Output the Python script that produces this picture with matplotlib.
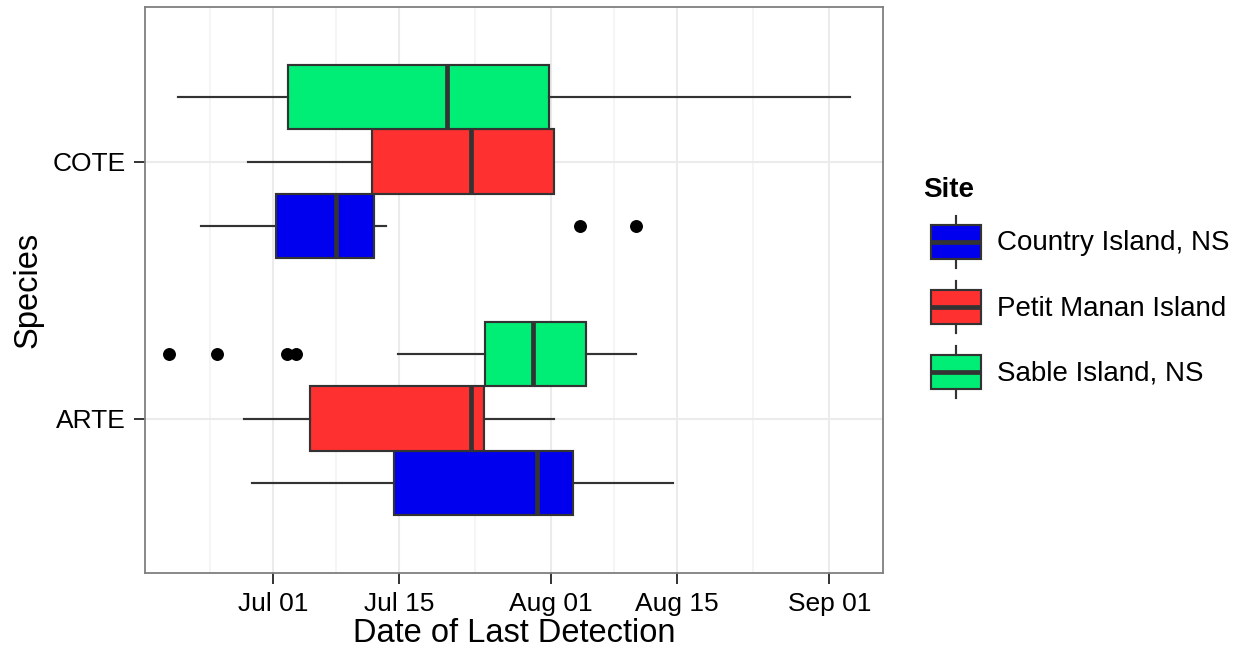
import datetime as dt

import matplotlib
matplotlib.use("Agg")
import matplotlib.pyplot as plt
import matplotlib.dates as mdates
from matplotlib.patches import Patch, Rectangle
from matplotlib.lines import Line2D
from matplotlib.legend_handler import HandlerBase
from matplotlib.ticker import FixedLocator

plt.rcParams["font.family"] = ["Liberation Sans", "DejaVu Sans"]

# ---- data: days after 1 July ----
BASE = dt.datetime(2014, 7, 1)

species = ["ARTE", "COTE"]
sites = ["Country Island, NS", "Petit Manan Island", "Sable Island, NS"]
site_colors = ["#0000EE", "#FF3030", "#00EE76"]

# per site: values for [ARTE, COTE]
whisker_low = {
    "Country Island, NS": [-2.4, -8.0],
    "Petit Manan Island": [-3.3, -2.8],
    "Sable Island, NS":   [13.9, -10.6],
}
q1 = {
    "Country Island, NS": [13.5, 0.3],
    "Petit Manan Island": [4.1, 11.0],
    "Sable Island, NS":   [23.6, 1.7],
}
median = {
    "Country Island, NS": [29.4, 7.0],
    "Petit Manan Island": [22.0, 22.0],
    "Sable Island, NS":   [29.0, 19.4],
}
q3 = {
    "Country Island, NS": [33.4, 11.2],
    "Petit Manan Island": [23.5, 31.3],
    "Sable Island, NS":   [34.9, 30.8],
}
whisker_high = {
    "Country Island, NS": [44.6, 12.6],
    "Petit Manan Island": [31.3, 31.3],
    "Sable Island, NS":   [40.4, 64.3],
}
outliers = {
    "Country Island, NS": [[], [34.2, 40.4]],
    "Petit Manan Island": [[], []],
    "Sable Island, NS":   [[-11.6, -6.3, 1.5, 2.5], []],
}

major_dates = ["2014-07-01", "2014-07-15", "2014-08-01", "2014-08-15", "2014-09-01"]
x_limits_days = (-14.3, 68.0)

EDGE = "#333333"
LW = 1.55
MED_LW = 3.4


def to_num(day):
    return mdates.date2num(BASE + dt.timedelta(days=day))


fig = plt.figure(figsize=(12.44, 6.54), dpi=100)
ax = fig.add_axes([145 / 1244, 1 - 572.7 / 654, (883 - 145) / 1244, (572.7 - 7.3) / 654])

dodge = [-0.25, 0.0, 0.25]
for k, site in enumerate(sites):
    stats = []
    for j in range(len(species)):
        stats.append({
            "whislo": to_num(whisker_low[site][j]),
            "q1": to_num(q1[site][j]),
            "med": to_num(median[site][j]),
            "q3": to_num(q3[site][j]),
            "whishi": to_num(whisker_high[site][j]),
            "fliers": [to_num(v) for v in outliers[site][j]],
        })
    positions = [j + 1 + dodge[k] for j in range(len(species))]
    ax.bxp(
        stats, positions=positions, widths=0.25, orientation="horizontal",
        patch_artist=True, showcaps=False, manage_ticks=False,
        boxprops=dict(facecolor=site_colors[k], edgecolor=EDGE, linewidth=LW),
        whiskerprops=dict(color=EDGE, linewidth=LW),
        medianprops=dict(color=EDGE, linewidth=MED_LW, solid_capstyle="butt"),
        flierprops=dict(marker="o", markerfacecolor="black", markeredgecolor="black",
                        markersize=8.3, linestyle="none"),
        zorder=3,
    )

# axes limits and date ticks
ax.set_xlim(to_num(x_limits_days[0]), to_num(x_limits_days[1]))
ax.set_ylim(0.4, 2.6)

major_nums = [mdates.date2num(dt.datetime.fromisoformat(d)) for d in major_dates]
ext = [major_nums[0] - (major_nums[1] - major_nums[0])] + major_nums
minor_nums = [(a + b) / 2 for a, b in zip(ext[:-1], ext[1:])]
ax.xaxis.set_major_locator(FixedLocator(major_nums))
ax.xaxis.set_minor_locator(FixedLocator(minor_nums))
ax.xaxis.set_major_formatter(mdates.DateFormatter("%b %d"))

ax.set_yticks([1, 2])
ax.set_yticklabels(species)

ax.grid(True, which="major", color="#EBEBEB", linewidth=1.5, zorder=0)
ax.grid(True, which="minor", axis="x", color="#F2F2F2", linewidth=1.1, zorder=0)
ax.set_axisbelow(True)

ax.tick_params(axis="both", which="major", length=8, width=1.4, color=EDGE,
               labelsize=19, labelcolor="black")
ax.tick_params(axis="x", which="major", pad=6)
ax.tick_params(axis="y", which="major", pad=6)
ax.tick_params(axis="both", which="minor", length=0)

for s in ax.spines.values():
    s.set_color("#7F7F7F")
    s.set_linewidth(1.3)
    s.set_zorder(5)

ax.set_xlabel("Date of Last Detection", fontsize=23.5, labelpad=1.5)
ax.set_ylabel("Species", fontsize=23.5, labelpad=6)


# legend keys drawn as small boxplots
class BoxKey(HandlerBase):
    def create_artists(self, legend, orig_handle, xdescent, ydescent, width, height,
                       fontsize, trans):
        x0, y0 = -xdescent, -ydescent
        bx0 = x0 + 0.12 * width
        bw = 0.76 * width
        by0 = y0 + 0.175 * height
        bh = 0.65 * height
        xc = x0 + 0.5 * width
        whisk = Line2D([xc, xc], [y0, y0 + height], color=EDGE, linewidth=LW,
                       transform=trans)
        rect = Rectangle((bx0, by0), bw, bh, facecolor=orig_handle.get_facecolor(),
                         edgecolor=EDGE, linewidth=LW, transform=trans)
        med = Line2D([bx0, bx0 + bw], [y0 + 0.5 * height] * 2, color=EDGE,
                     linewidth=MED_LW, solid_capstyle="butt", transform=trans)
        return [whisk, rect, med]


handles = [Patch(facecolor=c) for c in site_colors]
leg = fig.legend(
    handles, sites, handler_map={Patch: BoxKey()},
    loc="upper left", bbox_to_anchor=(923 / 1244, 1 - 177 / 654),
    frameon=False, fontsize=20, title="Site",
    title_fontproperties={"size": 20, "weight": "bold"},
    alignment="left", borderpad=0, borderaxespad=0,
    handlelength=2.37, handleheight=2.5, handletextpad=0.31, labelspacing=0.47,
)

fig.savefig("out.png", dpi=100)
